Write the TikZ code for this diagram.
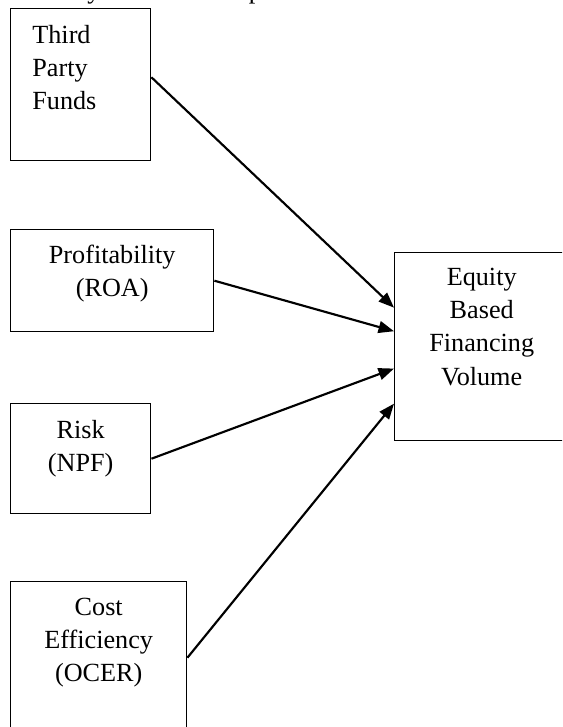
\documentclass[tikz,border=0pt]{standalone}
\usepackage{fontspec}
\setmainfont{Liberation Serif}
\usetikzlibrary{positioning,arrows.meta}

\begin{document}
\begin{tikzpicture}[x=0.42pt, y=0.42pt,
        font=\fontsize{11}{13.9}\selectfont,
        varbox/.style={draw, line width=0.6pt, anchor=north west, inner sep=0pt},
        vartext/.style={inner sep=0pt, align=center},
        effect/.style={line width=0.9pt, -{Triangle[length=6.5pt, width=5pt]}}]
    \useasboundingbox (0,0) rectangle (562,727);
    \clip (0,0) rectangle (562,727);

    % --- cut-off caption line ---
    \node[anchor=base west, inner sep=0pt] (caption) at (-4,728.5) {The study model developed as:};

    % --- independent variables ---
    \node[varbox, minimum width=58.8pt, minimum height=63.84pt] (tpf) at (10,719) {};
    \node[vartext, align=left, below right=7.1pt and 9.2pt of tpf.north west] (tpftext) {Third\\Party\\Funds};

    \node[varbox, minimum width=85.26pt, minimum height=42.84pt] (roa) at (10,498) {};
    \node[vartext, below=6.7pt of roa.north] (roatext) {Profitability\\(ROA)};

    \node[varbox, minimum width=58.8pt, minimum height=46.2pt] (npf) at (10,324) {};
    \node[vartext, below=7.1pt of npf.north] (npftext) {Risk\\(NPF)};

    \node[varbox, minimum width=73.92pt, minimum height=63.84pt] (ocer) at (10,146) {};
    \node[vartext, below=7.1pt of ocer.north] (ocertext) {Cost\\Efficiency\\(OCER)};

    % --- dependent variable ---
    \node[varbox, minimum width=73.08pt, minimum height=78.96pt] (ebf) at (394,475) {};
    \node[vartext, below=6.7pt of ebf.north] (ebftext) {Equity\\Based\\Financing\\Volume};

    % --- effects ---
    \draw[effect] (tpf.6) -- (ebf.156);
    \draw[effect] (roa.east) -- (ebf.170);
    \draw[effect] (npf.east) -- (ebf.194);
    \draw[effect] (ocer.east) -- (ebf.213);
\end{tikzpicture}
\end{document}
